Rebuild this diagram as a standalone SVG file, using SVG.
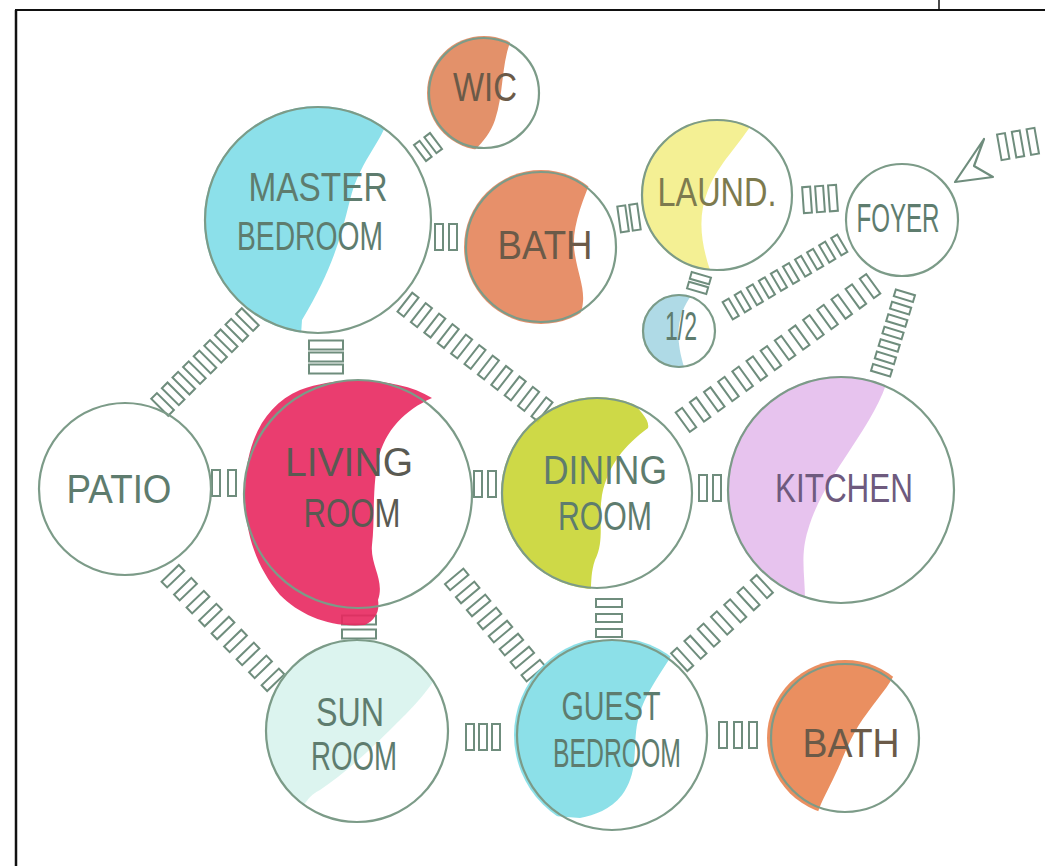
<svg xmlns="http://www.w3.org/2000/svg" xmlns:xlink="http://www.w3.org/1999/xlink" width="1045" height="866" viewBox="0 0 1045 866">
<style>
.bg{fill:#ffffff}
.frame{stroke:#111111;fill:none}
.ring{fill:none;stroke:#7c9b88;stroke-width:2.2}
.lbl{font-family:"Liberation Sans","DejaVu Sans",sans-serif;font-size:40px;fill:#5e7c6e;text-anchor:middle}
.dark{fill:#6b5a48}
.purp{fill:#6e5a7e}
.door{fill:#ffffff;stroke:#6f8d7d;stroke-width:2}
.conn use{fill:#ffffff}
.wash{opacity:0.9}
</style>
<defs>
<rect id="d" class="door" x="-3.5" y="-10" width="7" height="20"/>
<rect id="d2" class="door" x="-4" y="-12" width="8" height="24"/>
<rect id="dm" class="door" x="-4" y="-13" width="8" height="26"/>
<rect id="dl" class="door" x="-4.5" y="-17" width="9" height="34"/>
<clipPath id="cWic"><circle cx="484" cy="93" r="57"/></clipPath>
<clipPath id="cMaster"><circle cx="318" cy="220" r="114"/></clipPath>
<clipPath id="cBath1"><circle cx="541" cy="247" r="77"/></clipPath>
<clipPath id="cLaund"><circle cx="717" cy="195" r="76"/></clipPath>
<clipPath id="cHalf"><circle cx="679" cy="331" r="37"/></clipPath>
<clipPath id="cDining"><circle cx="597" cy="493" r="96"/></clipPath>
<clipPath id="cKitchen"><circle cx="841" cy="490" r="114"/></clipPath>
<clipPath id="cSun"><circle cx="357" cy="731" r="92"/></clipPath>
<clipPath id="cGuest"><circle cx="612" cy="735" r="98"/></clipPath>
<clipPath id="cBath2"><circle cx="845" cy="738" r="78"/></clipPath>
</defs>
<rect class="bg" x="0" y="0" width="1045" height="866"/>
<g id="frame">
<line class="frame" x1="15" y1="10" x2="1045" y2="10" stroke-width="2"/>
<line class="frame" x1="16" y1="10" x2="16" y2="866" stroke-width="2.5"/>
<line class="frame" x1="939" y1="0" x2="939" y2="10" stroke-width="1.5"/>
</g>
<g id="connectors" class="conn">
<g transform="translate(428,147) rotate(-37)"><use href="#d" x="-6.5"/><use href="#d" x="6.5"/></g>
<g transform="translate(446,237)"><use href="#dm" x="-7"/><use href="#dm" x="7"/></g>
<g transform="translate(629,218) rotate(-8)"><use href="#dm" x="-6"/><use href="#dm" x="6"/></g>
<g transform="translate(820,199) rotate(-4)"><use href="#dm" x="-13"/><use href="#dm" x="0"/><use href="#dm" x="13"/></g>
<g transform="translate(1018,144) rotate(-10)"><use href="#dm" x="-15"/><use href="#dm" x="0"/><use href="#dm" x="15"/></g>
<path d="M955,182 L984,139 L974,166 L993,177 Z" fill="none" stroke="#6f8d7d" stroke-width="2.2" stroke-linejoin="round"/>
<g transform="translate(699,283) rotate(-74)"><use href="#d" x="-5"/><use href="#d" x="5"/></g>
<g transform="translate(785,277) rotate(-30.5)"><use href="#d" x="-63"/><use href="#d" x="-49"/><use href="#d" x="-35"/><use href="#d" x="-21"/><use href="#d" x="-7"/><use href="#d" x="7"/><use href="#d" x="21"/><use href="#d" x="35"/><use href="#d" x="49"/><use href="#d" x="63"/></g>
<g transform="translate(778,353) rotate(-36)"><use href="#d2" x="-113.75"/><use href="#d2" x="-96.25"/><use href="#d2" x="-78.75"/><use href="#d2" x="-61.25"/><use href="#d2" x="-43.75"/><use href="#d2" x="-26.25"/><use href="#d2" x="-8.75"/><use href="#d2" x="8.75"/><use href="#d2" x="26.25"/><use href="#d2" x="43.75"/><use href="#d2" x="61.25"/><use href="#d2" x="78.75"/><use href="#d2" x="96.25"/><use href="#d2" x="113.75"/></g>
<g transform="translate(893,333) rotate(107)"><use href="#d" x="-39"/><use href="#d" x="-26"/><use href="#d" x="-13"/><use href="#d" x="0"/><use href="#d" x="13"/><use href="#d" x="26"/><use href="#d" x="39"/></g>
<g transform="translate(205,362) rotate(-45)"><use href="#d2" x="-60"/><use href="#d2" x="-45"/><use href="#d2" x="-30"/><use href="#d2" x="-15"/><use href="#d2" x="0"/><use href="#d2" x="15"/><use href="#d2" x="30"/><use href="#d2" x="45"/><use href="#d2" x="60"/></g>
<g transform="translate(326,357) rotate(90)"><use href="#dl" x="-12"/><use href="#dl" x="0"/><use href="#dl" x="12"/></g>
<g transform="translate(475,357) rotate(38)"><use href="#d2" x="-85"/><use href="#d2" x="-68"/><use href="#d2" x="-51"/><use href="#d2" x="-34"/><use href="#d2" x="-17"/><use href="#d2" x="0"/><use href="#d2" x="17"/><use href="#d2" x="34"/><use href="#d2" x="51"/><use href="#d2" x="68"/><use href="#d2" x="85"/></g>
<g transform="translate(224,483)"><use href="#dm" x="-8"/><use href="#dm" x="8"/></g>
<g transform="translate(485,484)"><use href="#dm" x="-7"/><use href="#dm" x="7"/></g>
<g transform="translate(710,488)"><use href="#dm" x="-7"/><use href="#dm" x="7"/></g>
<g transform="translate(223,628) rotate(46)"><use href="#d2" x="-72"/><use href="#d2" x="-54"/><use href="#d2" x="-36"/><use href="#d2" x="-18"/><use href="#d2" x="0"/><use href="#d2" x="18"/><use href="#d2" x="36"/><use href="#d2" x="54"/><use href="#d2" x="72"/></g>
<g transform="translate(359,627) rotate(90)"><use href="#dl" x="-7"/><use href="#dl" x="7"/></g>
<g transform="translate(495,625) rotate(50)"><use href="#d2" x="-59.5"/><use href="#d2" x="-42.5"/><use href="#d2" x="-25.5"/><use href="#d2" x="-8.5"/><use href="#d2" x="8.5"/><use href="#d2" x="25.5"/><use href="#d2" x="42.5"/><use href="#d2" x="59.5"/></g>
<g transform="translate(609,618) rotate(90)"><use href="#dm" x="-15"/><use href="#dm" x="0"/><use href="#dm" x="15"/></g>
<g transform="translate(722,623) rotate(-42.5)"><use href="#d2" x="-54"/><use href="#d2" x="-36"/><use href="#d2" x="-18"/><use href="#d2" x="0"/><use href="#d2" x="18"/><use href="#d2" x="36"/><use href="#d2" x="54"/></g>
<g transform="translate(483,737)"><use href="#dm" x="-13"/><use href="#dm" x="0"/><use href="#dm" x="13"/></g>
<g transform="translate(738,735)"><use href="#dm" x="-15"/><use href="#dm" x="0"/><use href="#dm" x="15"/></g>
</g>
<g id="wic">
<path class="wash" clip-path="url(#cWic)" fill="#e0855a" d="M420,30 L515,30 C500,60 505,90 495,120 C490,135 480,145 470,155 L420,155 Z"/>
<circle class="ring" cx="484" cy="93" r="55"/>
<text class="lbl dark" x="485" y="101" font-size="35" textLength="64" lengthAdjust="spacingAndGlyphs">WIC</text>
</g>
<g id="master-bedroom">
<path class="wash" clip-path="url(#cMaster)" fill="#80dde8" d="M250,90 L385,100 C398,130 362,150 350,200 C340,240 332,270 302,320 L300,350 L180,350 L180,90 Z"/>
<circle class="ring" cx="318" cy="220" r="113"/>
<text class="lbl" x="318" y="201" font-size="48" textLength="139" lengthAdjust="spacingAndGlyphs">MASTER</text>
<text class="lbl" x="310" y="250" font-size="44" textLength="146" lengthAdjust="spacingAndGlyphs">BEDROOM</text>
</g>
<g id="bath-master">
<path class="wash" clip-path="url(#cBath1)" fill="#e4845a" d="M460,160 L600,160 C582,200 570,230 575,255 C580,285 592,300 572,330 L460,330 Z"/>
<circle class="ring" cx="541" cy="247" r="75"/>
<text class="lbl dark" x="545" y="259" font-size="42" textLength="95" lengthAdjust="spacingAndGlyphs">BATH</text>
</g>
<g id="laundry">
<path class="wash" clip-path="url(#cLaund)" fill="#f3ee88" d="M630,110 L760,110 C745,140 720,160 708,190 C698,215 700,240 710,270 L630,280 Z"/>
<circle class="ring" cx="717" cy="195" r="75"/>
<text class="lbl" x="717" y="206" font-size="42" textLength="119" lengthAdjust="spacingAndGlyphs" style="fill:#7d7a4e">LAUND.</text>
</g>
<g id="foyer">
<circle class="ring" cx="902" cy="220" r="56"/>
<text class="lbl" x="898" y="232" font-size="36" textLength="83" lengthAdjust="spacingAndGlyphs">FOYER</text>
</g>
<g id="half-bath">
<path class="wash" clip-path="url(#cHalf)" fill="#a6d6e3" d="M640,290 L695,290 C680,310 672,330 685,370 L640,370 Z"/>
<circle class="ring" cx="679" cy="331" r="36"/>
<text class="lbl" x="681" y="340" font-size="30" textLength="32" lengthAdjust="spacingAndGlyphs">1/2</text>
</g>
<g id="patio">
<circle class="ring" cx="125" cy="489" r="86"/>
<text class="lbl" x="119" y="503" font-size="46" textLength="105" lengthAdjust="spacingAndGlyphs">PATIO</text>
</g>
<g id="living-room">
<path class="wash" fill="#e8285f" d="M300,390 C340,375 400,378 432,398 C405,410 385,430 378,460 C372,490 375,520 372,545 C370,565 385,580 378,600 C380,612 375,620 365,625 C330,628 300,615 280,595 C255,565 244,530 245,490 C246,440 265,405 300,390 Z"/>
<circle class="ring" cx="358" cy="494" r="114"/>
<text class="lbl" x="349" y="476" font-size="46" textLength="128" lengthAdjust="spacingAndGlyphs" style="fill:#5a5a52">LIVING</text>
<text class="lbl" x="352" y="527" font-size="42" textLength="97" lengthAdjust="spacingAndGlyphs" style="fill:#5a5a52">ROOM</text>
</g>
<g id="dining-room">
<path class="wash" clip-path="url(#cDining)" fill="#c9d533" d="M500,395 L625,395 C640,410 650,420 648,428 C625,445 608,465 602,495 C598,520 605,540 595,560 C590,575 592,585 590,595 L500,595 Z"/>
<circle class="ring" cx="597" cy="493" r="95"/>
<text class="lbl" x="605" y="484" font-size="42" textLength="124" lengthAdjust="spacingAndGlyphs">DINING</text>
<text class="lbl" x="605" y="530" font-size="38" textLength="94" lengthAdjust="spacingAndGlyphs">ROOM</text>
</g>
<g id="kitchen">
<path class="wash" clip-path="url(#cKitchen)" fill="#e4bdec" d="M720,370 L890,370 C885,395 870,420 850,450 C830,480 815,505 808,530 C800,555 805,575 805,600 L720,610 Z"/>
<circle class="ring" cx="841" cy="490" r="113"/>
<text class="lbl purp" x="844" y="502" font-size="44" textLength="138" lengthAdjust="spacingAndGlyphs">KITCHEN</text>
</g>
<g id="sun-room">
<path class="wash" clip-path="url(#cSun)" fill="#d8f3ed" d="M260,630 L460,630 C440,680 420,700 400,720 C380,740 350,770 320,790 C300,800 300,820 290,830 L260,830 Z"/>
<circle class="ring" cx="357" cy="731" r="91"/>
<text class="lbl" x="350" y="726" font-size="36" textLength="68" lengthAdjust="spacingAndGlyphs">SUN</text>
<text class="lbl" x="354" y="770" font-size="40" textLength="86" lengthAdjust="spacingAndGlyphs">ROOM</text>
</g>
<g id="guest-bedroom">
<path class="wash" clip-path="url(#cGuest)" fill="#80dde6" d="M510,640 L680,640 C665,670 645,690 638,720 C632,745 640,770 622,795 C610,810 595,815 580,818 L540,815 C525,790 515,770 512,740 Z"/>
<circle class="ring" cx="612" cy="735" r="95"/>
<text class="lbl" x="611" y="720" font-size="40" textLength="99" lengthAdjust="spacingAndGlyphs">GUEST</text>
<text class="lbl" x="617" y="767" font-size="40" textLength="128" lengthAdjust="spacingAndGlyphs">BEDROOM</text>
</g>
<g id="bath-guest">
<path class="wash" clip-path="url(#cBath2)" fill="#e8834f" d="M760,660 L900,660 C895,680 880,695 868,712 C850,735 845,755 835,775 C828,790 822,800 818,812 L760,812 Z"/>
<circle class="ring" cx="845" cy="738" r="74"/>
<text class="lbl dark" x="851" y="757" font-size="44" textLength="97" lengthAdjust="spacingAndGlyphs">BATH</text>
</g>
</svg>
